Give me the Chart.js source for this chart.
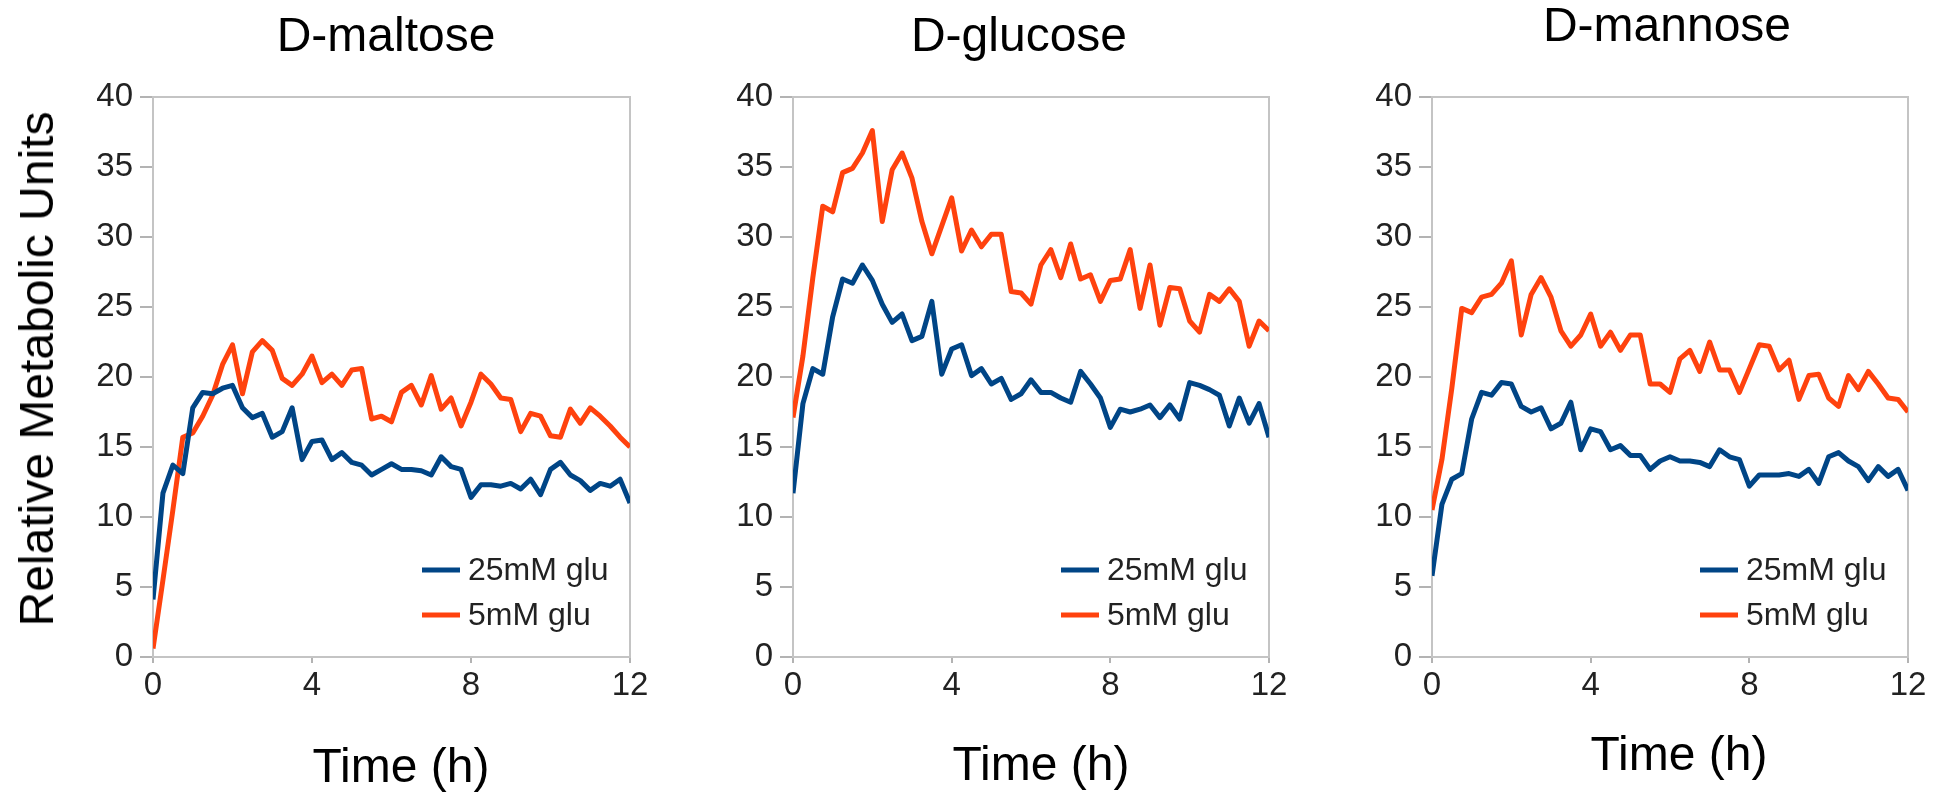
<!DOCTYPE html>
<html>
<head>
<meta charset="utf-8">
<script src="https://cdn.jsdelivr.net/npm/chart.js@4/dist/chart.umd.min.js"></script>
<style>
    body { margin: 0; background: #fff; }
    #wrap { position: relative; width: 1944px; height: 793px; overflow: hidden; font-family: "Liberation Sans", Arial, sans-serif; color: #000; }
    #wrap canvas { position: absolute; left: 0; top: 0; }
    .lbl { position: absolute; font-size: 48px; line-height: 1; white-space: nowrap; transform: translate(-50%, -50%); }
    .ytitle { transform: translate(-50%, -50%) rotate(-90deg); }
</style>
</head>
<body>
<div id="wrap">
    <canvas id="chart-maltose" width="1944" height="793"></canvas>
    <canvas id="chart-glucose" width="1944" height="793"></canvas>
    <canvas id="chart-mannose" width="1944" height="793"></canvas>

    <div class="lbl" style="left:386px; top:35px;">D-maltose</div>
    <div class="lbl" style="left:1019px; top:35px;">D-glucose</div>
    <div class="lbl" style="left:1667px; top:25px;">D-mannose</div>

    <div class="lbl" style="left:401px; top:766px;">Time (h)</div>
    <div class="lbl" style="left:1041px; top:764px;">Time (h)</div>
    <div class="lbl" style="left:1679px; top:754px;">Time (h)</div>

    <div class="lbl ytitle" style="left:37px; top:369px;">Relative Metabolic Units</div>
</div>

<script>
/// -------------- DATA --------------- ///

const hours = [0, 0.25, 0.5, 0.75, 1, 1.25, 1.5, 1.75, 2, 2.25, 2.5, 2.75, 3, 3.25, 3.5, 3.75,
    4, 4.25, 4.5, 4.75, 5, 5.25, 5.5, 5.75, 6, 6.25, 6.5, 6.75, 7, 7.25, 7.5, 7.75,
    8, 8.25, 8.5, 8.75, 9, 9.25, 9.5, 9.75, 10, 10.25, 10.5, 10.75, 11, 11.25, 11.5, 11.75, 12];

const seriesNames = ["25mM glu", "5mM glu"];
const seriesColors = ["#004586", "#ff420e"];

const maltose25 = [4.1, 11.7, 13.7, 13.1, 17.8, 18.9, 18.8, 19.2, 19.4, 17.8, 17.1, 17.4, 15.7, 16.1, 17.8, 14.1,
    15.4, 15.5, 14.1, 14.6, 13.9, 13.7, 13.0, 13.4, 13.8, 13.4, 13.4, 13.3, 13.0, 14.3, 13.6, 13.4,
    11.4, 12.3, 12.3, 12.2, 12.4, 12.0, 12.7, 11.6, 13.4, 13.9, 13.0, 12.6, 11.9, 12.4, 12.2, 12.7, 11.0];
const maltose5 = [0.6, 5.5, 10.5, 15.7, 16.0, 17.2, 18.7, 20.9, 22.3, 18.8, 21.8, 22.6, 21.9, 19.9, 19.4, 20.2,
    21.5, 19.6, 20.2, 19.4, 20.5, 20.6, 17.0, 17.2, 16.8, 18.9, 19.4, 18.0, 20.1, 17.7, 18.5, 16.5,
    18.2, 20.2, 19.5, 18.5, 18.4, 16.1, 17.4, 17.2, 15.8, 15.7, 17.7, 16.7, 17.8, 17.2, 16.5, 15.7, 15.0];

const glucose25 = [11.7, 18.1, 20.6, 20.2, 24.3, 27.0, 26.7, 28.0, 26.9, 25.2, 23.9, 24.5, 22.6, 22.9, 25.4, 20.2,
    22.0, 22.3, 20.1, 20.6, 19.5, 19.9, 18.4, 18.8, 19.8, 18.9, 18.9, 18.5, 18.2, 20.4, 19.5, 18.5,
    16.4, 17.7, 17.5, 17.7, 18.0, 17.1, 18.0, 17.0, 19.6, 19.4, 19.1, 18.7, 16.5, 18.5, 16.7, 18.1, 15.7];
const glucose5 = [17.1, 21.5, 27.1, 32.2, 31.8, 34.6, 34.9, 36.0, 37.6, 31.1, 34.8, 36.0, 34.2, 31.1, 28.8, 30.8,
    32.8, 29.0, 30.5, 29.3, 30.2, 30.2, 26.1, 26.0, 25.2, 28.0, 29.1, 27.1, 29.5, 27.0, 27.3, 25.4,
    26.9, 27.0, 29.1, 24.9, 28.0, 23.7, 26.4, 26.3, 24.0, 23.2, 25.9, 25.4, 26.3, 25.4, 22.2, 24.0, 23.3];

const mannose25 = [5.8, 10.9, 12.7, 13.1, 17.0, 18.9, 18.7, 19.6, 19.5, 17.9, 17.5, 17.8, 16.3, 16.7, 18.2, 14.8,
    16.3, 16.1, 14.8, 15.1, 14.4, 14.4, 13.4, 14.0, 14.3, 14.0, 14.0, 13.9, 13.6, 14.8, 14.3, 14.1,
    12.2, 13.0, 13.0, 13.0, 13.1, 12.9, 13.4, 12.4, 14.3, 14.6, 14.0, 13.6, 12.6, 13.6, 12.9, 13.4, 11.9];
const mannose5 = [10.5, 14.1, 19.2, 24.9, 24.6, 25.7, 25.9, 26.7, 28.3, 23.0, 25.9, 27.1, 25.7, 23.3, 22.2, 23.0,
    24.5, 22.2, 23.2, 21.9, 23.0, 23.0, 19.5, 19.5, 18.9, 21.3, 21.9, 20.4, 22.5, 20.5, 20.5, 18.9,
    20.6, 22.3, 22.2, 20.5, 21.2, 18.4, 20.1, 20.2, 18.5, 17.9, 20.1, 19.1, 20.4, 19.5, 18.5, 18.4, 17.5];

/// -------------- PLUGINS --------------- ///

// grey frame round the plot area
const frame = {
    id: "frame",
    beforeDatasetsDraw(chart) {
        const { ctx, chartArea: a } = chart;
        ctx.save();
        ctx.strokeStyle = "#c4c4c4";
        ctx.lineWidth = 2;
        ctx.strokeRect(a.left, a.top, a.right - a.left, a.bottom - a.top);
        ctx.restore();
    }
};

// legend sits inside the plot, bottom right
const innerLegend = {
    id: "innerLegend",
    afterDatasetsDraw(chart) {
        const { ctx, chartArea: a } = chart;
        ctx.save();
        ctx.font = "32px 'Liberation Sans', Arial, sans-serif";
        ctx.textBaseline = "middle";
        ctx.textAlign = "left";
        chart.data.datasets.forEach((ds, i) => {
            const y = a.bottom - 87 + i * 45;
            ctx.strokeStyle = ds.borderColor;
            ctx.lineWidth = 5;
            ctx.beginPath();
            ctx.moveTo(a.right - 208, y);
            ctx.lineTo(a.right - 170, y);
            ctx.stroke();
            ctx.fillStyle = "#222";
            ctx.fillText(ds.label, a.right - 162, y + 1);
        });
        ctx.restore();
    }
};

/// -------------- CHARTS --------------- ///

function createPanel(canvasId, left, right, values25, values5) {
    const toPoints = values => values.map((v, i) => ({ x: hours[i], y: v }));

    new Chart(document.getElementById(canvasId), {
        type: "line",
        data: {
            datasets: [values25, values5].map((values, i) => ({
                label: seriesNames[i],
                data: toPoints(values),
                borderColor: seriesColors[i],
                borderWidth: 5,
                borderJoinStyle: "round",
                pointRadius: 0,
                tension: 0
            }))
        },
        options: {
            responsive: false,
            animation: false,
            layout: {
                padding: { left: left - 80, right: 1944 - right, top: 97, bottom: 76 }
            },
            plugins: {
                legend: { display: false },
                tooltip: { enabled: false }
            },
            scales: {
                x: {
                    type: "linear",
                    min: 0,
                    max: 12,
                    afterFit: scale => { scale.height = 60; },
                    ticks: {
                        stepSize: 4,
                        padding: 3,
                        color: "#222",
                        font: { family: "'Liberation Sans', Arial, sans-serif", size: 33 }
                    },
                    grid: { drawOnChartArea: false, tickLength: 6, color: "#b3b3b3", lineWidth: 2 },
                    border: { color: "#b3b3b3", width: 2 }
                },
                y: {
                    min: 0,
                    max: 40,
                    afterFit: scale => { scale.width = 80; },
                    ticks: {
                        stepSize: 5,
                        padding: 7,
                        color: "#222",
                        font: { family: "'Liberation Sans', Arial, sans-serif", size: 33 }
                    },
                    grid: { drawOnChartArea: false, tickLength: 13, color: "#b3b3b3", lineWidth: 2 },
                    border: { color: "#b3b3b3", width: 2 }
                }
            }
        },
        plugins: [frame, innerLegend]
    });
}

createPanel("chart-maltose", 153, 630, maltose25, maltose5);
createPanel("chart-glucose", 793, 1269, glucose25, glucose5);
createPanel("chart-mannose", 1432, 1908, mannose25, mannose5);
</script>
</body>
</html>
